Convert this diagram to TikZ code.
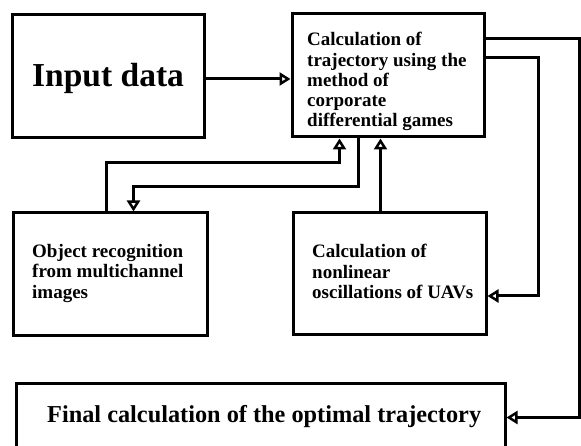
\documentclass[tikz,border=0pt]{standalone}
\usepackage{fontspec}
\setmainfont{Liberation Serif}
\usetikzlibrary{arrows.meta}
\tikzset{
  box/.style={draw, line width=3pt, inner sep=0pt, fill=white},
  txt/.style={inner sep=0pt, align=left, font=\bfseries\fontsize{19}{20.3}\selectfont},
  arr/.style={line width=3pt, -{Triangle[open, length=11pt, width=13pt, line width=2.5pt]}}
}
\begin{document}
\begin{tikzpicture}[x=1pt, y=-1pt]
\useasboundingbox (0,0) rectangle (581,446);
\clip (0,0) rectangle (581,446);
\fill[white] (0,0) rectangle (581,446);
% boxes
\node[box, minimum width=192pt, minimum height=123pt] (input) at (108,76.5) {};
\node[box, minimum width=192pt, minimum height=123pt] (calc) at (388,75.5) {};
\node[box, minimum width=194pt, minimum height=123pt] (obj) at (110,274.5) {};
\node[box, minimum width=193pt, minimum height=122pt] (uav) at (389.5,274) {};
\node[box, minimum width=489pt, minimum height=69pt] (final) at (260.5,417.5) {};
% texts
\node[inner sep=0pt, anchor=base west, font=\bfseries\fontsize{33.5}{36}\selectfont] (inputt) at (32,87) {Input data};
\node[txt, anchor=north west] (calct) at (307,32.2) {Calculation of\\trajectory using the\\method of\\corporate\\differential games};
\node[txt, anchor=north west] (objt) at (32,244.2) {Object recognition\\from multichannel\\images};
\node[txt, anchor=north west] (uavt) at (312,244.2) {Calculation of\\nonlinear\\oscillations of UAVs};
\node[inner sep=0pt, anchor=base west, font=\bfseries\fontsize{24.3}{28}\selectfont] (finalt) at (47,422) {Final calculation of the optimal trajectory};
% connectors
\draw[arr] (input.east |- 0,79) -- (calc.west |- 0,79);
\draw[arr] ([yshift=-26pt]calc.north east) -| ([xshift=73pt]final.east) -- (final.east);
\draw[arr] ([yshift=-45pt]calc.north east) -| ([xshift=51pt,yshift=-22pt]uav.east) -- ([yshift=-22pt]uav.east);
\draw[arr] ([xshift=95pt]obj.north west) |- ([xshift=49pt,yshift=-24pt]calc.south west) -- ([xshift=49pt]calc.south west);
\draw[arr] ([xshift=68pt]calc.south west) |- ([xshift=122pt,yshift=25pt]obj.north west) -- ([xshift=122pt]obj.north west);
\draw[arr] ([xshift=89pt]uav.north west) -- ([xshift=89pt]uav.north west |- calc.south);
\end{tikzpicture}
\end{document}
